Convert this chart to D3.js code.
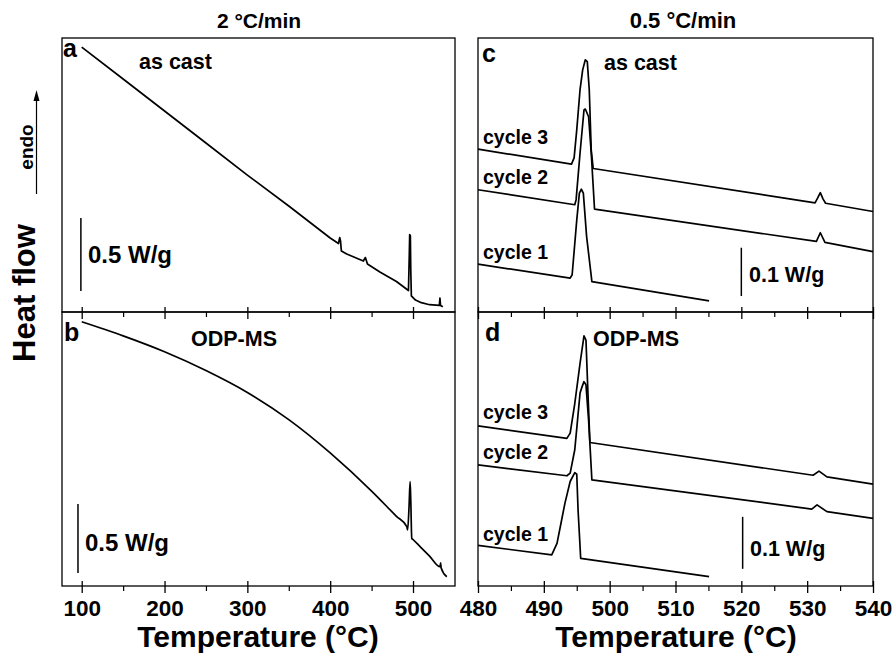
<!DOCTYPE html>
<html>
<head>
<meta charset="utf-8">
<script src="https://cdn.jsdelivr.net/npm/d3@7"></script>
<style>
  body { margin: 0; background: #fff; }
  text { font-family: "Liberation Sans", Arial, Helvetica, sans-serif; font-weight: bold; fill: #000; }
</style>
</head>
<body>
<script>
// panel a: as cast, 2 °C/min
let tA = [100, 150, 200, 250, 300, 350, 400, 410, 411.5, 412.5, 413.5, 420, 440, 442.5, 445, 460, 480, 494.5, 495.5, 496, 496.8, 497.3, 498, 503, 510, 520, 531.8, 532.5, 533.2, 536]
let hfA = [1.815, 1.596, 1.377, 1.158, 0.938, 0.726, 0.507, 0.469, 0.510, 0.486, 0.418, 0.397, 0.349, 0.373, 0.329, 0.274, 0.209, 0.147, 0.390, 0.531, 0.521, 0.288, 0.110, 0.082, 0.064, 0.050, 0.045, 0.096, 0.045, 0.036]

// panel b: ODP-MS, 2 °C/min
let tB = [100, 150, 200, 250, 300, 350, 400, 450, 480, 492.5, 493.5, 495.3, 496.5, 497.3, 498.5, 500, 510, 520, 532.7, 533.3, 534, 540.8]
let hfB = [1.915, 1.813, 1.698, 1.562, 1.403, 1.206, 0.965, 0.688, 0.505, 0.430, 0.406, 0.587, 0.756, 0.623, 0.346, 0.337, 0.277, 0.217, 0.140, 0.167, 0.130, 0.067]

// panel c: as cast, 0.5 °C/min
let cC3T = [480, 494.2, 494.6, 495.0, 495.5, 495.9, 496.3, 496.6, 496.9, 497.2, 497.5, 531.2, 531.6, 532.0, 532.4, 532.8, 540]
let cC3V = [0.337, 0.306, 0.319, 0.377, 0.460, 0.501, 0.522, 0.518, 0.460, 0.335, 0.297, 0.226, 0.236, 0.247, 0.234, 0.225, 0.208]
let cC2T = [480, 494.7, 494.9, 495.5, 496.1, 496.3, 496.8, 497.2, 497.7, 531.4, 532.0, 532.7, 540]
let cC2V = [0.253, 0.222, 0.232, 0.329, 0.418, 0.420, 0.404, 0.329, 0.213, 0.146, 0.164, 0.144, 0.125]
let cC1T = [480, 494.0, 494.3, 495.0, 495.4, 495.7, 496.0, 496.5, 497.3, 515.1]
let cC1V = [0.099, 0.070, 0.077, 0.190, 0.246, 0.254, 0.246, 0.156, 0.063, 0.023]

// panel d: ODP-MS, 0.5 °C/min
let dC3T = [480, 493.5, 494.0, 494.7, 495.5, 496.1, 496.4, 496.7, 497.0, 530.9, 531.8, 533.0, 540]
let dC3V = [0.308, 0.284, 0.294, 0.351, 0.428, 0.481, 0.473, 0.371, 0.276, 0.213, 0.221, 0.210, 0.196]
let dC2T = [480, 493.5, 494.0, 494.7, 495.5, 495.8, 496.1, 496.4, 496.8, 497.3, 530.7, 531.5, 533.0, 540]
let dC2V = [0.233, 0.212, 0.217, 0.262, 0.371, 0.383, 0.393, 0.387, 0.319, 0.204, 0.148, 0.156, 0.143, 0.130]
let dC1T = [480, 491.2, 492.0, 492.5, 493.2, 494.0, 494.7, 495.0, 495.2, 495.6, 515.1]
let dC1V = [0.078, 0.060, 0.082, 0.114, 0.159, 0.201, 0.218, 0.215, 0.146, 0.053, 0.018]

let leftTicks = [100, 200, 300, 400, 500]
let leftMinor = [150, 250, 350, 450]
let rightTicks = [480, 490, 500, 510, 520, 530, 540]
let rightMinor = [485, 495, 505, 515, 525, 535]

let width = 894,
  height = 653

let svg = d3.select('body').append('svg')
  .attr('width', width)
  .attr('height', height)

let xLeft = d3.scaleLinear().domain([76.2, 550.7]).range([62, 455])
let xRight = d3.scaleLinear().domain([480, 540]).range([478, 873])

let yA = d3.scaleLinear().domain([0, 1.877]).range([312, 38])
let yB = d3.scaleLinear().domain([0, 1.986]).range([586, 312])
let yC = d3.scaleLinear().domain([0, 0.567]).range([312, 38])
let yD = d3.scaleLinear().domain([0, 0.527]).range([586, 312])

let zip = (t, v) => t.map((d, i) => [d, v[i]])

function drawCurve(x, y, t, v, curve) {
  let line = d3.line()
    .x(d => x(d[0]))
    .y(d => y(d[1]))
    .curve(curve || d3.curveLinear)
  svg.append('path')
    .datum(zip(t, v))
    .attr('fill', 'none')
    .attr('stroke', '#000')
    .attr('stroke-width', 1.7)
    .attr('stroke-linejoin', 'round')
    .attr('d', line)
}

function drawFrame(x, y) {
  let [x0, x1] = x.range()
  let [y1, y0] = y.range()
  svg.append('rect')
    .attr('x', x0).attr('y', y0)
    .attr('width', x1 - x0).attr('height', y1 - y0)
    .attr('fill', 'none')
    .attr('stroke', '#000')
    .attr('stroke-width', 1.3)
}

function drawAxis(x, yPos, major, minor, withLabels) {
  svg.append('g')
    .attr('transform', 'translate(0,' + yPos + ')')
    .call(d3.axisBottom(x).tickValues(minor).tickSize(5).tickFormat(''))
    .call(g => g.select('.domain').remove())
    .call(g => g.selectAll('.tick line').attr('stroke', '#000').attr('stroke-width', 1.2))
  let g = svg.append('g')
    .attr('transform', 'translate(0,' + yPos + ')')
    .call(d3.axisBottom(x).tickValues(major).tickSize(7).tickFormat(withLabels ? d3.format('d') : ''))
  g.select('.domain').remove()
  g.selectAll('.tick line').attr('y1', -5).attr('stroke', '#000').attr('stroke-width', 1.3)
  g.selectAll('.tick text')
    .attr('y', 30)
    .attr('dy', 0)
    .attr('font-size', 22.5)
}

function scaleBar(x, y, t, v0, dv) {
  svg.append('line')
    .attr('x1', x(t)).attr('x2', x(t))
    .attr('y1', y(v0)).attr('y2', y(v0 + dv))
    .attr('stroke', '#000')
    .attr('stroke-width', 1.5)
}

function label(txt, x, y, size, anchor) {
  svg.append('text')
    .attr('x', x).attr('y', y)
    .attr('font-size', size)
    .attr('text-anchor', anchor || 'start')
    .text(txt)
}

// frames
drawFrame(xLeft, yA)
drawFrame(xLeft, yB)
drawFrame(xRight, yC)
drawFrame(xRight, yD)

// axes
drawAxis(xLeft, 312, leftTicks, leftMinor, false)
drawAxis(xLeft, 586, leftTicks, leftMinor, true)
drawAxis(xRight, 312, rightTicks, rightMinor, false)
drawAxis(xRight, 586, rightTicks, rightMinor, true)

// curves
drawCurve(xLeft, yA, tA, hfA)
drawCurve(xLeft, yB, tB, hfB, d3.curveMonotoneX)
drawCurve(xRight, yC, cC3T, cC3V)
drawCurve(xRight, yC, cC2T, cC2V)
drawCurve(xRight, yC, cC1T, cC1V)
drawCurve(xRight, yD, dC3T, dC3V)
drawCurve(xRight, yD, dC2T, dC2V)
drawCurve(xRight, yD, dC1T, dC1V)

// scale bars
scaleBar(xLeft, yA, 99, 0.144, 0.5)
scaleBar(xLeft, yB, 95.5, 0.094, 0.5)
scaleBar(xRight, yC, 520, 0.033, 0.1)
scaleBar(xRight, yD, 520.2, 0.033, 0.1)

// panel texts
label('a', 63, 57, 25)
label('as cast', 139, 69, 21.5)
label('0.5 W/g', 88, 263, 24)
label('b', 64, 341, 25)
label('ODP-MS', 191, 346, 21.5)
label('0.5 W/g', 85, 551, 24)

label('c', 482, 62, 25)
label('as cast', 604, 70, 21.5)
label('cycle 3', 483, 144, 19.5)
label('cycle 2', 483, 184, 19.5)
label('cycle 1', 483, 259, 19.5)
label('0.1 W/g', 749, 282, 21.5)

label('d', 485, 341, 25)
label('ODP-MS', 593, 346, 21.5)
label('cycle 3', 483, 419, 19.5)
label('cycle 2', 483, 459, 19.5)
label('cycle 1', 483, 541, 19.5)
label('0.1 W/g', 750, 556, 21.5)

// titles
label('2 °C/min', 259, 28, 21, 'middle')
label('0.5 °C/min', 683, 28, 22, 'middle')
label('Temperature (°C)', 258, 647, 30, 'middle')
label('Temperature (°C)', 676, 647, 30, 'middle')

// y title with endo arrow
svg.append('text')
  .attr('transform', 'translate(35,293) rotate(-90)')
  .attr('font-size', 31)
  .attr('text-anchor', 'middle')
  .text('Heat flow')
svg.append('text')
  .attr('transform', 'translate(33,147) rotate(-90)')
  .attr('font-size', 19)
  .attr('text-anchor', 'middle')
  .text('endo')
svg.append('line')
  .attr('x1', 36.5).attr('x2', 36.5)
  .attr('y1', 194).attr('y2', 96)
  .attr('stroke', '#000')
  .attr('stroke-width', 1.2)
svg.append('path')
  .attr('d', 'M33.5,101 L36.5,90 L39.5,101 Z')
  .attr('fill', '#000')
</script>
</body>
</html>
